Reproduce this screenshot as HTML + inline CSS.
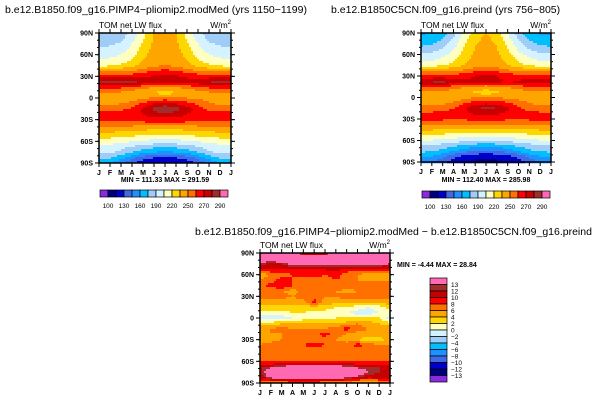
<!DOCTYPE html>
<html><head><meta charset="utf-8"><style>
html,body{margin:0;padding:0;background:#fff;}
svg{display:block;font-family:"Liberation Sans",sans-serif;}
</style></head><body>
<svg id="s" width="611" height="401" viewBox="0 0 611 401">
<text x="5" y="13" font-size="10.5">b.e12.B1850.f09_g16.PIMP4−pliomip2.modMed  (yrs 1150−1199)</text>
<text x="331" y="13" font-size="10.5">b.e12.B1850C5CN.f09_g16.preind  (yrs 756−805)</text>
<text x="195" y="235" font-size="10.5">b.e12.B1850.f09_g16.PIMP4−pliomip2.modMed  −  b.e12.B1850C5CN.f09_g16.preind</text>
</svg>
<script>
const lats=[90,82,75,67,60,52,45,37,30,22,15,7,0,-8,-15,-22,-30,-37,-45,-52,-60,-67,-75,-82,-90];
const months=["J","F","M","A","M","J","J","A","S","O","N","D","J"];
const latLabels=["90N","60N","30N","0","30S","60S","90S"];
const absLevels=[100,115,130,145,160,175,190,205,220,235,250,260,270,280,290];
const absTickLabels=["100","130","160","190","220","250","270","290"];
const diffLevels=[-13,-12,-10,-8,-6,-4,-2,0,2,4,6,8,10,12,13];
const diffTickLabels=["13","12","10","8","6","4","2","0","−2","−4","−6","−8","−10","−12","−13"];
const colors=["#8a2be2","#00007f","#0000cd","#4169e1","#1e90ff","#00bfff","#a0cdf8","#d4f2ff","#ffffc0","#ffd700","#ffa500","#ff7000","#ff0000","#c80000","#a02c2c","#ff69b4"];
const fieldA=[
[180,178,182,195,215,235,242,235,215,195,182,180,180],
[182,183,187,200,218,236,243,236,218,200,187,184,182],
[185,188,192,205,222,238,245,238,222,205,192,188,185],
[192,194,198,210,226,240,245,240,226,210,198,194,192],
[198,200,205,215,230,242,246,242,230,215,205,200,198],
[207,209,213,222,235,245,248,245,235,222,213,209,207],
[215,218,222,230,240,248,250,248,240,230,222,218,215],
[250,250,250,252,256,262,264,262,256,252,250,250,250],
[266,266,266,266,268,272,274,272,268,266,266,266,266],
[282,284,286,282,278,276,276,276,274,276,280,282,282],
[262,262,262,258,254,250,248,250,254,258,262,262,262],
[250,250,248,244,240,234,226,234,240,244,248,250,250],
[242,242,242,244,248,252,254,252,250,248,246,242,242],
[248,248,250,254,262,270,272,270,264,258,252,248,248],
[256,256,258,262,272,282,292,284,276,264,258,256,256],
[264,264,264,266,270,276,278,276,270,266,264,264,264],
[264,264,264,264,265,266,266,266,265,264,264,264,264],
[255,255,255,254,254,254,254,254,254,254,255,255,255],
[240,240,238,236,234,232,232,232,234,236,238,240,240],
[226,226,224,222,220,218,218,218,220,222,224,226,226],
[212,212,210,206,202,200,198,200,202,206,210,212,212],
[202,200,196,190,184,180,178,180,184,190,196,200,202],
[194,192,186,176,166,160,158,160,166,176,188,192,194],
[182,178,168,152,140,132,130,132,140,152,168,178,182],
[168,162,148,132,120,116,114,116,120,132,148,162,168]];
const fieldB=[
[158,160,168,185,208,228,236,228,205,182,165,158,158],
[164,167,175,192,213,231,238,231,210,189,172,165,164],
[170,174,182,198,218,234,240,234,216,196,180,172,170],
[181,184,191,204,222,236,241,236,221,203,190,183,181],
[192,194,200,210,226,238,242,238,226,210,200,194,192],
[202,204,209,218,231,241,244,241,231,218,209,204,202],
[212,214,218,226,236,244,246,244,236,226,218,214,212],
[248,248,248,250,254,258,262,258,254,250,248,248,248],
[264,264,264,264,266,270,272,270,266,264,264,264,264],
[278,281,282,278,274,272,272,272,270,272,276,278,278],
[260,260,260,256,252,248,246,248,252,256,260,260,260],
[248,248,246,242,238,232,224,232,238,242,246,248,248],
[240,240,240,242,246,250,252,250,248,246,244,240,240],
[246,246,248,252,260,266,268,266,262,256,250,246,246],
[254,254,256,260,268,278,283,280,272,262,256,254,254],
[262,262,262,264,268,272,274,272,268,264,262,262,262],
[262,262,262,262,262,263,263,263,262,262,262,262,262],
[252,252,252,251,251,251,251,251,251,251,252,252,252],
[236,236,234,232,230,228,228,228,230,232,234,236,236],
[220,220,218,216,214,212,212,212,214,216,218,220,220],
[204,204,202,198,194,192,190,192,194,198,202,204,204],
[190,188,184,178,172,168,166,168,172,178,184,188,190],
[178,176,170,160,150,144,142,144,150,160,172,176,178],
[164,160,150,136,126,120,118,120,126,136,150,160,164],
[150,146,134,122,114,112,112,112,114,122,134,146,150]];
const fieldD=[
[16,16,16,16,11,11,11,16,16,16,16,16,16],
[15,15,16,16,16,15,15,16,16,16,16,16,15],
[13,11,12,14,14,14,14,14,14,14,14,14,13],
[9,10,10,10,10,10,10,11,9,9,9,9,9],
[5,6,7,8,9,9,8,9,7,6,5,5,5],
[6,7,9,8,7,7,7,8,7,6,6,6,6],
[7,9,10,8,7,6,7,8,8,7,7,7,7],
[6,6,6,5,7,6,6,6,5,6,7,7,6],
[7,7,7,6,7,7,6,6,7,7,7,7,7],
[5,5,4,5,5,9,5,5,5,4,4,5,5],
[3,3,4,3,3,3,3,2,2,1,0,1,3],
[1,1,1,2,2,1,1,1,0,-1,-1,0,1],
[-1,-1,-1,0,1,1,1,2,2,3,3,2,-1],
[3,3,4,4,4,5,5,4,5,6,5,4,3],
[6,6,7,6,6,6,6,7,9,7,6,6,6],
[5,6,6,7,7,7,9,7,6,5,5,5,5],
[5,5,6,6,6,7,7,6,5,4,3,3,5],
[6,7,7,7,8,9,8,7,7,9,7,6,6],
[7,7,7,7,7,7,7,7,7,7,7,7,7],
[7,7,7,7,7,7,7,7,7,7,7,7,7],
[7.5,7.5,7.5,7.5,7.5,7.5,7.5,7.5,7.5,7.5,7.5,7.5,7.5],
[12,12,13,14,14,14,14,14,13,12,12,12,12],
[11,16,16,16,16,16,16,16,16,16,13,12,11],
[11,14,15,15,15,15,15,15,14,12,11,11,11],
[6,6,6,7,7,7,6,6,5,4,3,5,6]];
const NS="http://www.w3.org/2000/svg";
const svg=document.getElementById('s');
function mk(tag,attrs,parent){const e=document.createElementNS(NS,tag);for(const k in attrs)e.setAttribute(k,attrs[k]);(parent||svg).appendChild(e);return e;}
function colorFor(v,levels){let i=0;while(i<levels.length&&v>=levels[i])i++;return colors[i];}
function sample(f,mi,lat){
 const m0=Math.min(Math.floor(mi),11),fm=mi-m0;
 let l0=0;while(l0<lats.length-2&&lat<lats[l0+1])l0++;
 const fl=(lats[l0]-lat)/(lats[l0]-lats[l0+1]);
 return f[l0][m0]*(1-fm)*(1-fl)+f[l0][m0+1]*fm*(1-fl)+f[l0+1][m0]*(1-fm)*fl+f[l0+1][m0+1]*fm*fl;}
function plot(name,f,levels,x0,y0,w,h){
 const g=mk('g',{});
 
 
 const xs=m=>x0+m/12*w;
 const step=2;
 for(let py=0;py<h;py+=step){for(let px=0;px<w;px+=step){
  const mi=(px+step/2)/w*12, lat=90-(py+step/2)/h*180;
  const r=mk('rect',{x:x0+px,y:y0+py,width:step+0.3,height:step+0.3,fill:colorFor(sample(f,mi,lat),levels)},g);
  
  
 }}
 mk('rect',{x:x0,y:y0,width:w,height:h,fill:'none',stroke:'#000','stroke-width':1.5},g);
 latLabels.forEach((t,i)=>{const y=y0+i/6*h;
  mk('line',{x1:x0-4,x2:x0,y1:y,y2:y,stroke:'#000'},g);mk('line',{x1:x0+w,x2:x0+w+4,y1:y,y2:y,stroke:'#000'},g);
  const tx=mk('text',{x:x0-6,y:y+2.5,'font-size':7,'font-weight':'bold','text-anchor':'end'},g);tx.textContent=t;
  
  });
 for(let i=0;i<18;i++){const y=y0+i/18*h;mk('line',{x1:x0-2,x2:x0,y1:y,y2:y,stroke:'#000'},g);mk('line',{x1:x0+w,x2:x0+w+2,y1:y,y2:y,stroke:'#000'},g);}
 months.forEach((t,i)=>{const x=xs(i);
  mk('line',{x1:x,x2:x,y1:y0+h,y2:y0+h+4,stroke:'#000'},g);mk('line',{x1:x,x2:x,y1:y0-4,y2:y0,stroke:'#000'},g);
  const tx=mk('text',{x:x,y:y0+h+12,'font-size':7,'font-weight':'bold','text-anchor':'middle'},g);tx.textContent=t;
  
  });
 const a=mk('text',{x:x0,y:y0-5,'font-size':8.5},g);a.textContent='TOM net LW flux';
 
 
 const u=mk('text',{x:x0+w,y:y0-5,'font-size':8.5,'text-anchor':'end'},g);u.innerHTML='W/m<tspan font-size="6" dy="-4">2</tspan>';
 
 
}
function hbar(name,x0,y0){
 const g=mk('g',{});
 
 
 const bw=8;
 colors.forEach((c,i)=>{const r=mk('rect',{x:x0+i*bw,y:y0,width:bw,height:7,fill:c,stroke:'#000','stroke-width':0.7},g);
  
  });
 absTickLabels.forEach((t,i)=>{const tx=mk('text',{x:x0+(2*i+1)*bw,y:y0+18,'font-size':6.5,'text-anchor':'middle'},g);tx.textContent=t;
  
  });
}
function txt(name,x,y,t,anchor){const e=mk('text',{x:x,y:y,'font-size':7,'font-weight':'bold','text-anchor':anchor||'middle'});e.textContent=t;
 
 }
plot('left-contour-plot',fieldA,absLevels,99,33,132,130);
plot('right-contour-plot',fieldB,absLevels,421,33,130,129);
plot('diff-contour-plot',fieldD,diffLevels,260,253,130,130);
txt('left-minmax',165,182,'MIN = 111.33  MAX = 291.59');
txt('right-minmax',486,182,'MIN = 112.40  MAX = 285.98');
txt('diff-minmax',397,267,'MIN =  -4.44  MAX =  28.84','start');
hbar('left-colorbar',100,190);
hbar('right-colorbar',422,191);
const lg=mk('g',{});


const bh=104/16;
colors.slice().reverse().forEach((c,i)=>{const r=mk('rect',{x:430,y:278+i*bh,width:17,height:bh,fill:c,stroke:'#000','stroke-width':0.7},lg);
 
 });
diffTickLabels.forEach((t,i)=>{const tx=mk('text',{x:451,y:278+(i+1)*bh+2.5,'font-size':6.5},lg);tx.textContent=t;
 
 });
</script>
</body></html>
